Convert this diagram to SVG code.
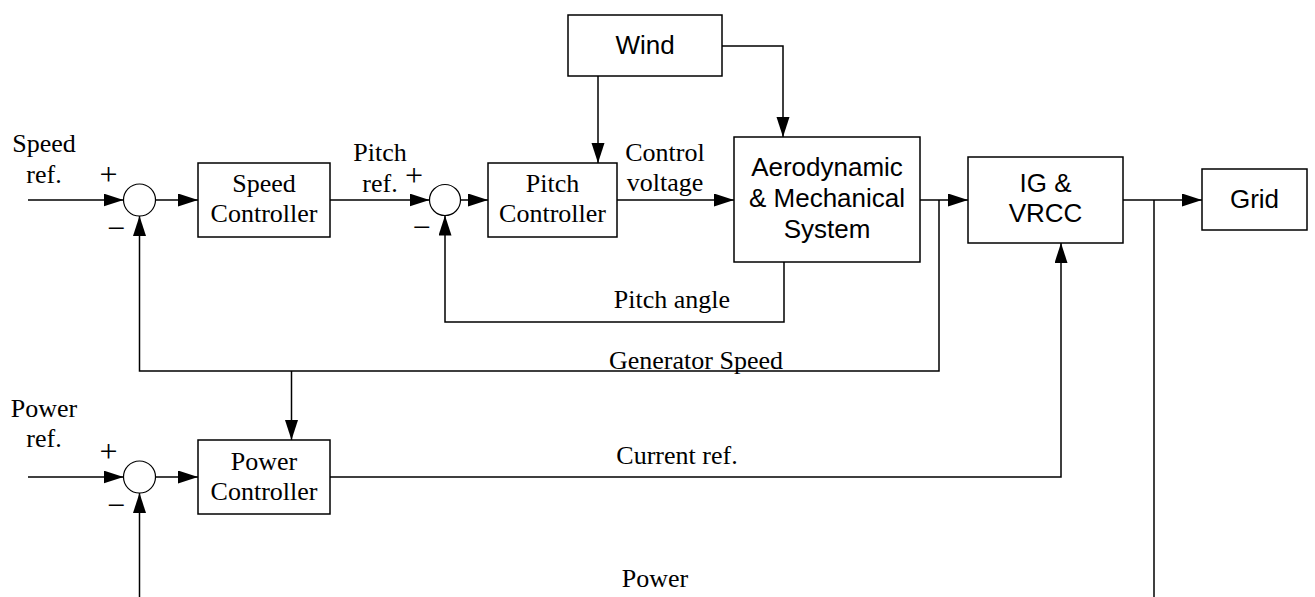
<svg xmlns="http://www.w3.org/2000/svg" width="1315" height="597" viewBox="0 0 1315 597">
<style>
.box{fill:#fff;stroke:#000;stroke-width:1.5}
.sum{fill:#fff;stroke:#000;stroke-width:1.2}
.ln{fill:none;stroke:#000;stroke-width:1.5}
.ar{marker-end:url(#arr)}
.s{font-family:"Liberation Serif","Times New Roman",serif;font-size:26px;fill:#000;text-anchor:middle}
.sg{font-family:"Liberation Serif","Times New Roman",serif;font-size:32px;fill:#000;text-anchor:middle}
.h{font-family:"Liberation Sans",Arial,sans-serif;font-size:26px;fill:#000;text-anchor:middle}
</style>
<defs>
<marker id="arr" markerUnits="userSpaceOnUse" markerWidth="20" markerHeight="14" refX="20" refY="6.5" orient="auto">
<path d="M0,0 L20,6.5 L0,13 Z" fill="#000"/>
</marker>
</defs>
<rect width="1315" height="597" fill="#fff"/>

<g id="connectors">
<path class="ln ar" d="M28,200 H123.5"/>
<path class="ln ar" d="M155.5,200 H198"/>
<path class="ln ar" d="M330,200 H429.5"/>
<path class="ln ar" d="M460.5,200 H488"/>
<path class="ln ar" d="M617,200 H734"/>
<path class="ln ar" d="M598,76 V163"/>
<path class="ln ar" d="M722,46 H783 V137"/>
<path class="ln ar" d="M784,262 V322 H445 V215.5"/>
<path class="ln ar" d="M920,200 H968"/>
<path class="ln ar" d="M939,200 V371 H139.5 V216"/>
<path class="ln ar" d="M291.5,371 V440"/>
<path class="ln ar" d="M1123,200 H1202"/>
<path class="ln" d="M1154,200 V597"/>
<path class="ln ar" d="M28,477 H123.5"/>
<path class="ln ar" d="M155.5,477 H198"/>
<path class="ln ar" d="M330,477 H1061 V243"/>
<path class="ln ar" d="M139.5,597 V493"/>
</g>

<g id="labels">
<text class="s" x="44" y="152">Speed</text>
<text class="s" x="44" y="183">ref.</text>
<text class="s" x="380" y="161">Pitch</text>
<text class="s" x="380" y="192">ref.</text>
<text class="s" x="665" y="161">Control</text>
<text class="s" x="665" y="191">voltage</text>
<text class="s" x="672" y="308">Pitch angle</text>
<text class="s" x="696" y="369">Generator Speed</text>
<text class="s" x="44" y="417">Power</text>
<text class="s" x="44" y="447">ref.</text>
<text class="s" x="677" y="464">Current ref.</text>
<text class="s" x="655" y="587">Power</text>
</g>

<g id="sum1">
<circle class="sum" cx="139.5" cy="200" r="16"/>
<text class="sg" x="108.5" y="185">+</text>
<text class="sg" x="116" y="239">−</text>
</g>
<g id="sum2">
<circle class="sum" cx="445" cy="200" r="15.5"/>
<text class="sg" x="414" y="186">+</text>
<text class="sg" x="421.5" y="238">−</text>
</g>
<g id="sum3">
<circle class="sum" cx="139.5" cy="477" r="16"/>
<text class="sg" x="108.5" y="462">+</text>
<text class="sg" x="116" y="516">−</text>
</g>

<g id="speed-controller">
<rect class="box" x="198" y="163" width="132" height="74"/>
<text class="s" x="264" y="192">Speed</text>
<text class="s" x="264" y="222">Controller</text>
</g>
<g id="pitch-controller">
<rect class="box" x="488" y="163" width="129" height="74"/>
<text class="s" x="552.5" y="192">Pitch</text>
<text class="s" x="552.5" y="222">Controller</text>
</g>
<g id="wind">
<rect class="box" x="568" y="15" width="154" height="61"/>
<text class="h" x="645" y="54">Wind</text>
</g>
<g id="aero">
<rect class="box" x="734" y="137" width="186" height="125"/>
<text class="h" x="827" y="176">Aerodynamic</text>
<text class="h" x="827" y="207">&amp; Mechanical</text>
<text class="h" x="827" y="238">System</text>
</g>
<g id="ig-vrcc">
<rect class="box" x="968" y="157" width="155" height="86"/>
<text class="h" x="1045.5" y="192">IG &amp;</text>
<text class="h" x="1045.5" y="222">VRCC</text>
</g>
<g id="grid">
<rect class="box" x="1202" y="169" width="105" height="61"/>
<text class="h" x="1254.5" y="208">Grid</text>
</g>
<g id="power-controller">
<rect class="box" x="198" y="440" width="132" height="74"/>
<text class="s" x="264" y="470">Power</text>
<text class="s" x="264" y="500">Controller</text>
</g>
</svg>
